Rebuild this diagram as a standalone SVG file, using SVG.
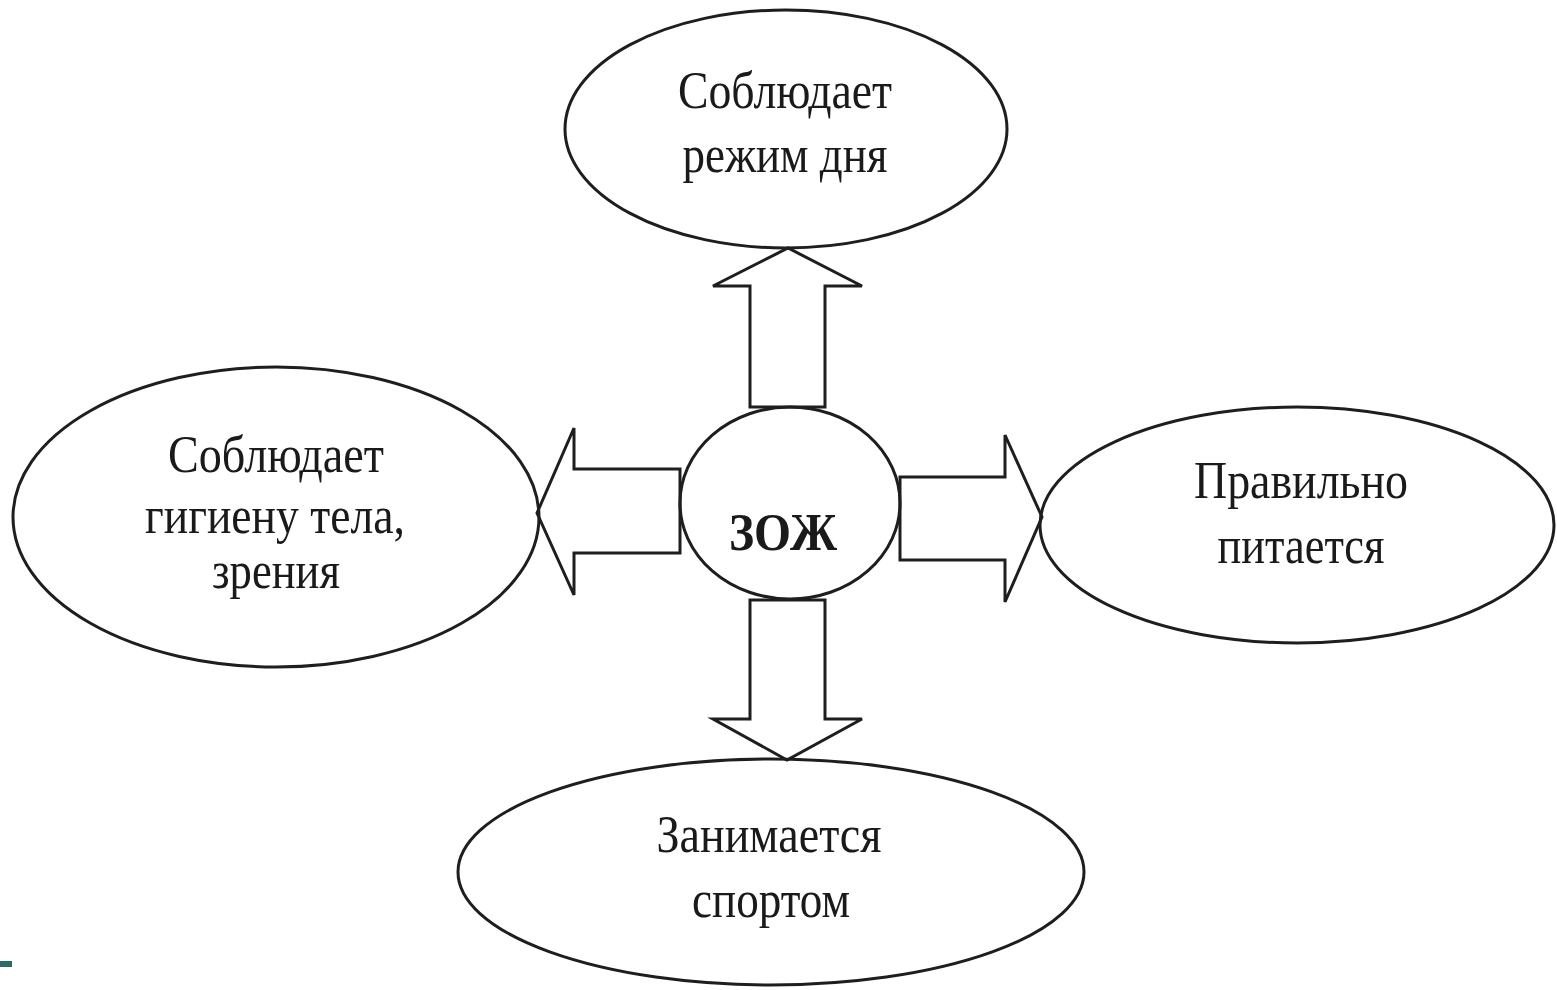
<svg xmlns="http://www.w3.org/2000/svg" width="1557" height="990" viewBox="0 0 1557 990">
<style>
.shape{fill:none;stroke:#1e1e1e;stroke-width:3}
.arrow{fill:none;stroke:#1e1e1e;stroke-width:3;stroke-linejoin:miter}
.lbl{font-family:"Liberation Serif","Times New Roman",serif;font-size:52px;fill:#1a1a1a;text-anchor:middle}
</style>
<rect x="0" y="0" width="1557" height="990" fill="#ffffff"/>
<g id="connectors">
<polygon class="arrow" points="750,407 750,286 713,286 788,248 862,286 825,286 825,407"/>
<polygon class="arrow" points="680,469 574,469 574,428 537,513 574,595 574,553 680,553"/>
<polygon class="arrow" points="900,477 1005,477 1005,435 1042,517 1005,602 1005,560 900,560"/>
<polygon class="arrow" points="750,600 750,719 713,719 787,760 862,719 825,719 825,600"/>
</g>
<g id="node-top">
<ellipse class="shape" cx="786" cy="129" rx="221" ry="119"/>
<text class="lbl" x="785" y="108" textLength="214" lengthAdjust="spacingAndGlyphs">Соблюдает</text>
<text class="lbl" x="785" y="172" textLength="205" lengthAdjust="spacingAndGlyphs">режим дня</text>
</g>
<g id="node-left">
<ellipse class="shape" cx="276" cy="517" rx="263" ry="150"/>
<text class="lbl" x="276" y="472" textLength="216" lengthAdjust="spacingAndGlyphs">Соблюдает</text>
<text class="lbl" x="275" y="533" textLength="260" lengthAdjust="spacingAndGlyphs">гигиену тела,</text>
<text class="lbl" x="276" y="588" textLength="128" lengthAdjust="spacingAndGlyphs">зрения</text>
</g>
<g id="node-right">
<ellipse class="shape" cx="1297" cy="525" rx="257" ry="118"/>
<text class="lbl" x="1301" y="498" textLength="214" lengthAdjust="spacingAndGlyphs">Правильно</text>
<text class="lbl" x="1301" y="563" textLength="167" lengthAdjust="spacingAndGlyphs">питается</text>
</g>
<g id="node-bottom">
<ellipse class="shape" cx="771" cy="872" rx="313" ry="113"/>
<text class="lbl" x="769" y="852" textLength="225" lengthAdjust="spacingAndGlyphs">Занимается</text>
<text class="lbl" x="771" y="917" textLength="158" lengthAdjust="spacingAndGlyphs">спортом</text>
</g>
<g id="node-center">
<ellipse class="shape" cx="790" cy="503" rx="110" ry="96"/>
<text class="lbl" x="783" y="550" textLength="108" lengthAdjust="spacingAndGlyphs" style="font-weight:bold">ЗОЖ</text>
</g>
<rect x="0" y="961" width="12" height="6" fill="#2f6b66"/>
</svg>
